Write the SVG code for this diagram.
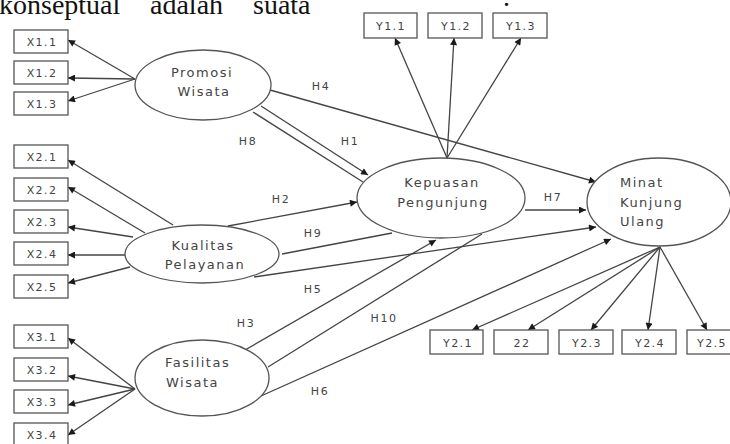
<svg xmlns="http://www.w3.org/2000/svg" width="730" height="444" viewBox="0 0 730 444">
<defs>
<marker id="arr" viewBox="0 0 10 10" refX="10" refY="5" markerWidth="8" markerHeight="7" markerUnits="userSpaceOnUse" orient="auto">
<path d="M0,0 L10,5 L0,10 z" fill="#1a1a1a"/>
</marker>
<style>
.box{fill:#fff;stroke:#555;stroke-width:1.3}
.ell{fill:#fff;stroke:#555;stroke-width:1.3}
.bt{font-family:"DejaVu Sans",sans-serif;font-size:11px;letter-spacing:1.4px;fill:#444;text-anchor:middle}
.nt{font-family:"DejaVu Sans",sans-serif;font-size:13px;letter-spacing:1.5px;fill:#444}
.mid{text-anchor:middle}
.lbl{font-family:"DejaVu Sans",sans-serif;font-size:11px;letter-spacing:1.5px;fill:#444;text-anchor:middle}
.c line{stroke:#444;stroke-width:1.3;fill:none}
.a{marker-end:url(#arr)}
.hdr{font-family:"Liberation Serif",serif;font-size:28px;fill:#111}
</style>
</defs>
<rect width="730" height="444" fill="#fff"/>
<text class="hdr" y="14"><tspan x="-1">konseptual</tspan><tspan x="150">adalah</tspan><tspan x="253">suata</tspan><tspan x="503" y="6">.</tspan></text>

<g class="c" id="connectors">
<line class="a" x1="135" y1="79" x2="68" y2="40"/>
<line class="a" x1="135" y1="79" x2="68" y2="78"/>
<line class="a" x1="135" y1="79" x2="68" y2="101"/>
<line class="a" x1="173" y1="225" x2="68" y2="160"/>
<line class="a" x1="145" y1="233" x2="68" y2="187"/>
<line class="a" x1="133" y1="237" x2="68" y2="227"/>
<line class="a" x1="125" y1="255" x2="68" y2="255"/>
<line class="a" x1="130" y1="267" x2="68" y2="283"/>
<line class="a" x1="135" y1="389" x2="68" y2="338"/>
<line class="a" x1="135" y1="389" x2="68" y2="376"/>
<line class="a" x1="135" y1="389" x2="68" y2="405"/>
<line class="a" x1="135" y1="389" x2="68" y2="435"/>
<line class="a" x1="447" y1="158" x2="395" y2="38"/>
<line class="a" x1="447" y1="158" x2="454" y2="38"/>
<line class="a" x1="447" y1="158" x2="521" y2="38"/>
<line class="a" x1="660" y1="247" x2="472" y2="330"/>
<line class="a" x1="660" y1="247" x2="528" y2="330"/>
<line class="a" x1="660" y1="247" x2="591" y2="330"/>
<line class="a" x1="660" y1="247" x2="648" y2="330"/>
<line class="a" x1="660" y1="247" x2="707" y2="330"/>
<line class="a" x1="261" y1="106" x2="368" y2="175"/>
<line x1="253" y1="112" x2="363" y2="182"/>
<line class="a" x1="270" y1="90" x2="596" y2="182"/>
<line class="a" x1="228" y1="226" x2="357" y2="202"/>
<line x1="282" y1="254" x2="392" y2="233"/>
<line class="a" x1="254" y1="277" x2="596" y2="227"/>
<line class="a" x1="525" y1="210" x2="586" y2="210"/>
<line class="a" x1="245" y1="350" x2="436" y2="240"/>
<line x1="268" y1="367" x2="482" y2="234"/>
<line class="a" x1="261" y1="396" x2="611" y2="239"/>
</g>

<g id="labels">
<text class="lbl" x="321" y="90">H4</text>
<text class="lbl" x="248" y="145">H8</text>
<text class="lbl" x="350" y="145">H1</text>
<text class="lbl" x="281" y="203">H2</text>
<text class="lbl" x="313" y="237">H9</text>
<text class="lbl" x="553" y="201">H7</text>
<text class="lbl" x="313" y="293">H5</text>
<text class="lbl" x="246" y="327">H3</text>
<text class="lbl" x="384" y="322">H10</text>
<text class="lbl" x="320" y="395">H6</text>
</g>

<g id="promosi"><ellipse class="ell" cx="203" cy="85" rx="68" ry="35"/><text class="nt mid" x="202" y="77">Promosi</text><text class="nt mid" x="204" y="96">Wisata</text></g>
<g id="kualitas"><ellipse class="ell" cx="202" cy="254" rx="77" ry="29"/><text class="nt mid" x="203" y="250">Kualitas</text><text class="nt mid" x="205" y="269">Pelayanan</text></g>
<g id="fasilitas"><ellipse class="ell" cx="202" cy="378" rx="67" ry="38"/><text class="nt" x="165" y="367">Fasilitas</text><text class="nt" x="166" y="387">Wisata</text></g>
<g id="kepuasan"><ellipse class="ell" cx="441" cy="198" rx="84" ry="40"/><text class="nt mid" x="442" y="187">Kepuasan</text><text class="nt mid" x="443" y="207">Pengunjung</text></g>
<g id="minat"><ellipse class="ell" cx="659" cy="202" rx="72" ry="44"/><text class="nt" x="620" y="187">Minat</text><text class="nt" x="620" y="207">Kunjung</text><text class="nt" x="620" y="226">Ulang</text></g>

<g id="x11"><rect class="box" x="14" y="30" width="54" height="23"/><text class="bt" x="42" y="46">X1.1</text></g>
<g id="x12"><rect class="box" x="14" y="61" width="54" height="23"/><text class="bt" x="42" y="77">X1.2</text></g>
<g id="x13"><rect class="box" x="14" y="92" width="54" height="23"/><text class="bt" x="42" y="108">X1.3</text></g>
<g id="x21"><rect class="box" x="14" y="145" width="54" height="23"/><text class="bt" x="42" y="161">X2.1</text></g>
<g id="x22"><rect class="box" x="14" y="178" width="54" height="23"/><text class="bt" x="42" y="194">X2.2</text></g>
<g id="x23"><rect class="box" x="14" y="210" width="54" height="23"/><text class="bt" x="42" y="226">X2.3</text></g>
<g id="x24"><rect class="box" x="14" y="242" width="54" height="23"/><text class="bt" x="42" y="258">X2.4</text></g>
<g id="x25"><rect class="box" x="14" y="275" width="54" height="23"/><text class="bt" x="42" y="291">X2.5</text></g>
<g id="x31"><rect class="box" x="14" y="325" width="54" height="23"/><text class="bt" x="42" y="341">X3.1</text></g>
<g id="x32"><rect class="box" x="14" y="358" width="54" height="23"/><text class="bt" x="42" y="374">X3.2</text></g>
<g id="x33"><rect class="box" x="14" y="390" width="54" height="23"/><text class="bt" x="42" y="406">X3.3</text></g>
<g id="x34"><rect class="box" x="14" y="423" width="54" height="23"/><text class="bt" x="42" y="439">X3.4</text></g>

<g id="y11"><rect class="box" x="364" y="13" width="53" height="25"/><text class="bt" x="391" y="30">Y1.1</text></g>
<g id="y12"><rect class="box" x="428" y="13" width="54" height="25"/><text class="bt" x="456" y="30">Y1.2</text></g>
<g id="y13"><rect class="box" x="493" y="13" width="54" height="25"/><text class="bt" x="521" y="30">Y1.3</text></g>

<g id="y21"><rect class="box" x="430" y="330" width="53" height="24"/><text class="bt" x="458" y="347">Y2.1</text></g>
<g id="y22"><rect class="box" x="494" y="330" width="54" height="24"/><text class="bt" x="522" y="347">22</text></g>
<g id="y23"><rect class="box" x="559" y="330" width="54" height="24"/><text class="bt" x="587" y="347">Y2.3</text></g>
<g id="y24"><rect class="box" x="622" y="330" width="54" height="24"/><text class="bt" x="650" y="347">Y2.4</text></g>
<g id="y25"><rect class="box" x="687" y="330" width="54" height="24"/><text class="bt" x="712" y="347">Y2.5</text></g>
</svg>
